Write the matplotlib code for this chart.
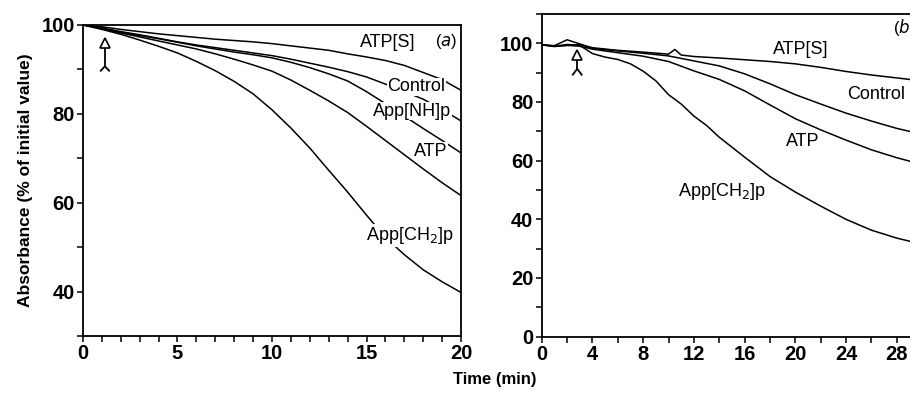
import matplotlib.pyplot as plt
from matplotlib.ticker import MultipleLocator

plt.rcParams['font.family'] = ['Liberation Sans', 'DejaVu Sans']

# ---- panel (a): time in min, absorbance in % of initial value
t_a = [0, 1, 2, 3, 4, 5, 6, 7, 8, 9, 10, 11, 12, 13, 14, 15, 16, 17, 18, 19, 20]
atps_a = [100, 99.6, 99.0, 98.5, 98.0, 97.6, 97.2, 96.8, 96.5, 96.2, 95.8,
          95.3, 94.8, 94.3, 93.5, 92.8, 92.0, 90.9, 89.3, 87.7, 85.3]
control_a = [100, 99.3, 98.5, 97.8, 97.0, 96.2, 95.5, 94.9, 94.3, 93.7, 93.1,
             92.3, 91.4, 90.5, 89.5, 88.3, 86.7, 85.0, 83.3, 81.0, 78.4]
appnhp_a = [100, 99.3, 98.4, 97.6, 96.9, 96.1, 95.3, 94.6, 93.9, 93.3, 92.6,
            91.6, 90.4, 89.0, 87.4, 85.0, 82.3, 79.5, 76.7, 74.0, 71.2]
atp_a = [100, 99.2, 98.2, 97.3, 96.4, 95.5, 94.6, 93.5, 92.3, 91.0, 89.6,
         87.6, 85.3, 82.9, 80.3, 77.2, 74.0, 70.8, 67.6, 64.5, 61.6]
appch2p_a = [100, 99.0, 97.9, 96.6, 95.2, 93.7, 91.8, 89.7, 87.3, 84.5, 80.9,
             76.8, 72.3, 67.3, 62.4, 57.2, 52.2, 48.3, 44.9, 42.2, 39.8]

# ---- panel (b)
t_b1 = [0, 1, 2, 3, 4, 6, 8, 10, 10.5, 11, 12, 14, 16, 18, 20, 22, 24, 26, 28, 30]
atps_b = [99.5, 99.0, 99.3, 99.6, 98.5, 97.6, 97.0, 96.3, 97.9, 96.0, 95.5,
          95.0, 94.4, 93.8, 93.0, 91.8, 90.4, 89.2, 88.2, 87.2]
t_b2 = [0, 1, 2, 3, 4, 6, 8, 10, 12, 14, 16, 18, 20, 22, 24, 26, 28, 30]
control_b = [99.5, 99.2, 101.2, 99.8, 98.3, 97.4, 96.6, 95.7, 94.0, 92.3, 89.6,
             86.2, 82.5, 79.3, 76.2, 73.5, 71.0, 69.0]
atp_b = [99.5, 98.9, 99.3, 99.0, 98.0, 96.8, 95.6, 93.8, 90.6, 87.7, 83.8,
         79.0, 74.3, 70.5, 67.0, 63.7, 61.0, 58.7]
t_b3 = [0, 1, 2, 3, 4, 5, 6, 7, 8, 9, 10, 11, 12, 13, 14, 16, 18, 20, 22, 24,
        26, 28, 30]
appch2p_b = [99.5, 99.0, 99.6, 99.3, 96.5, 95.3, 94.5, 93.0, 90.5, 87.2, 82.5,
             79.3, 75.2, 72.0, 68.0, 61.2, 54.6, 49.3, 44.5, 40.0, 36.3, 33.6,
             31.5]

# curve labels: (text, t, value)
labels_a = [('ATP[S]', 16.1, 96.0), ('Control', 17.65, 86.1),
            ('App[NH]p', 17.4, 80.6), ('ATP', 18.4, 71.6),
            ('App[CH$_2$]p', 17.3, 52.6)]
labels_b = [('ATP[S]', 20.4, 97.8), ('Control', 26.4, 82.5),
            ('ATP', 20.6, 66.6), ('App[CH$_2$]p', 14.2, 49.5)]

# addition arrow: t, head, bottom
arrow_a = (1.16, 96.0, 89.7)
arrow_b = (2.8, 96.0, 89.3)


def draw_arrow(ax, x, top, bottom, dx, dy):
    ax.plot([x, x], [bottom + dy, top], color='k', lw=1.3, zorder=4)
    ax.plot([x - dx, x, x + dx], [bottom, bottom + dy, bottom], color='k', lw=1.3, zorder=4)
    ax.plot([x], [top], marker='^', ms=7, mfc='white', mec='k', mew=1.2, zorder=5)


def style_axes(ax):
    for s in ax.spines.values():
        s.set_linewidth(1.3)
    ax.tick_params(which='both', direction='out', length=4, width=1.1,
                   labelsize=14.5, pad=2)
    for lab in ax.get_xticklabels() + ax.get_yticklabels():
        lab.set_fontweight('bold')


fig = plt.figure(figsize=(9.1, 3.97), dpi=100)

# panel (a)
ax1 = fig.add_axes([0.0912, 0.1537, 0.4154, 0.7834])
for y in [atps_a, control_a, appnhp_a, atp_a, appch2p_a]:
    ax1.plot(t_a, y, color='k', lw=1.1)
ax1.set_xlim(0, 20)
ax1.set_ylim(30, 100)
ax1.xaxis.set_major_locator(MultipleLocator(5))
ax1.xaxis.set_minor_locator(MultipleLocator(1))
ax1.yaxis.set_minor_locator(MultipleLocator(10))
ax1.set_yticks([40, 60, 80, 100])
style_axes(ax1)
for txt, x, y in labels_a:
    ax1.text(x, y, txt, ha='center', va='center', fontsize=13, zorder=6,
             bbox=dict(facecolor='white', edgecolor='none', pad=0.5))
ax1.text(19.2, 96.2, '($a$)', ha='center', va='center', fontsize=12, zorder=6)
draw_arrow(ax1, *arrow_a, dx=0.22, dy=1.0)
ax1.set_ylabel('Absorbance (% of initial value)', fontsize=12.5, fontweight='bold',
               labelpad=6)

# panel (b), right side cut off by the figure edge like the reference
ax2 = fig.add_axes([0.5953, 0.152, 0.418, 0.8128])
for tt, y in [(t_b1, atps_b), (t_b2, control_b), (t_b2, atp_b), (t_b3, appch2p_b)]:
    ax2.plot(tt, y, color='k', lw=1.1)
ax2.set_xlim(0, 30)
ax2.set_ylim(0, 110)
ax2.xaxis.set_minor_locator(MultipleLocator(2))
ax2.yaxis.set_minor_locator(MultipleLocator(10))
ax2.set_xticks(range(0, 29, 4))
ax2.set_yticks(range(0, 101, 20))
style_axes(ax2)
for txt, x, y in labels_b:
    ax2.text(x, y, txt, ha='center', va='center', fontsize=13, zorder=6,
             bbox=dict(facecolor='white', edgecolor='none', pad=0.5))
ax2.text(27.7, 105.3, '($b$)', ha='left', va='center', fontsize=12, zorder=6)
draw_arrow(ax2, *arrow_b, dx=0.35, dy=2.0)

fig.text(0.544, 0.045, 'Time (min)', ha='center', va='center', fontsize=12,
         fontweight='bold')

fig.savefig('out.png', dpi=100)
